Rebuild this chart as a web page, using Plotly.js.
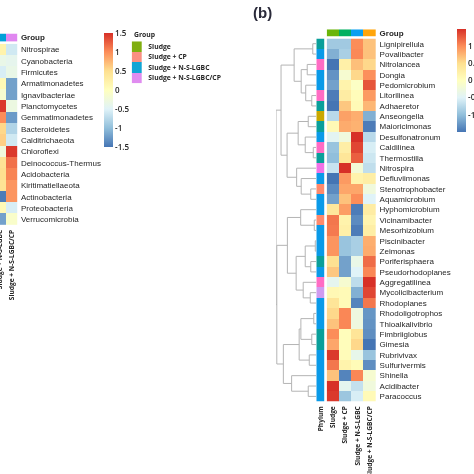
<!DOCTYPE html>
<html>
<head>
<meta charset="utf-8">
<script src="https://cdn.plot.ly/plotly-3.0.1.min.js"></script>
<style>html,body{margin:0;padding:0;background:#fff;overflow:hidden}#c{width:474px;height:474px;filter:blur(0.4px)}</style>
</head>
<body>
<div id="c"></div>
<script>
// ---------- data ----------
const groupNames = ['Sludge', 'Sludge + CP', 'Sludge + N-S-LGBC', 'Sludge + N-S-LGBC/CP'];

const leftTaxa = ['Nitrospirae','Cyanobacteria','Firmicutes','Armatimonadetes','Ignavibacteriae','Planctomycetes',
  'Gemmatimonadetes','Bacteroidetes','Calditrichaeota','Chloroflexi','Deinococcus-Thermus','Acidobacteria',
  'Kiritimatiellaeota','Actinobacteria','Proteobacteria','Verrucomicrobia'];
const leftColNSLGBC = [0.2,-0.35,-0.55,0.1,-0.15,1.45,1.0,0.55,0.6,-0.25,0.45,0.5,0.45,-1.45,0.1,-1.2];
const leftColNSLGBCCP = [-0.6,-0.4,-0.35,-1.2,-1.2,-0.3,-1.25,-0.8,-0.6,1.45,1.15,1.05,0.95,0.95,-0.55,-0.1];

const rightTaxa = ['Lignipirellula','Povalibacter','Nitrolancea','Dongia','Pedomicrobium','Litorilinea','Adhaeretor',
  'Anseongella','Maioricimonas','Desulfonatronum','Caldilinea','Thermostilla','Nitrospira','Defluviimonas',
  'Stenotrophobacter','Aquamicrobium','Hyphomicrobium','Vicinamibacter','Mesorhizobium','Piscinibacter','Zeimonas',
  'Poriferisphaera','Pseudorhodoplanes','Aggregatilinea','Mycolicibacterium','Rhodoplanes','Rhodoligotrophos',
  'Thioalkalivibrio','Fimbriiglobus','Gimesia','Rubrivivax','Sulfurivermis','Shinella','Acidibacter','Paracoccus'];
const rightSludge = [-0.9,-1.1,-1.5,-1.3,-1.2,-1.45,-1.5,-0.75,0.1,-0.45,-0.95,-1.0,-0.65,-1.5,-1.35,-1.2,0.38,1.12,1.1,0.95,0.95,0.48,0.65,-0.42,0.12,0.42,0.55,0.68,1.0,0.85,1.45,1.12,0.68,1.5,1.45];
const rightCP = [-0.9,-0.85,0.25,-0.15,0.2,0.3,0.65,0.88,0.82,-0.25,0.27,0.4,1.5,0.92,0.85,0.68,0.9,0.2,0.25,-0.95,-0.95,-1.2,-1.2,-0.15,0.08,0.08,1.03,1.03,0.04,0.04,0.06,0.2,-1.4,-0.42,-0.93];
const rightNS = [1.0,1.02,0.7,0.55,-0.05,0.05,0.08,0.8,0.78,1.5,1.38,1.25,-0.2,0.2,0.85,1.0,-1.45,-1.35,-1.45,-0.85,-0.85,-0.35,-0.5,-0.72,-1.1,-1.4,-0.28,-0.28,0.42,0.55,-0.38,0.07,1.03,-0.68,-0.55];
const rightNSCP = [0.68,0.68,0.55,0.98,1.3,0.92,0.75,-1.1,-1.45,-0.75,-0.55,-0.62,-0.7,0.28,-0.25,-0.5,0.3,0.18,0.28,0.8,0.82,1.18,1.03,1.5,1.38,1.12,-1.28,-1.3,-1.33,-1.5,-0.95,-1.33,-0.15,-0.25,0.08];

const phylumColors = ['#0a9f9a','#0a9ae8','#ff6cc4','#c9a800','#f272e6','#ff8a6c','#d09bf0'];
const rightPhylum = [0,1,2,1,1,2,0,3,0,1,2,0,4,1,5,1,1,5,1,1,1,0,1,2,6,1,1,1,0,0,1,1,1,1,1];

const rightGroupColors = ['#6ab50a','#00b060','#0a9ff0','#ffa50a'];
const leftGroupColors = ['#00a0d8','#e087f0'];
const legendColors = ['#80ae10','#fa8f82','#10a5d5','#e08cf0'];

const heatColors = ['#4575B4','#91BFDB','#E0F3F8','#FFFFBF','#FEE090','#FC8D59','#D73027'];
const barTicksLeft = [1.5,1,0.5,0,-0.5,-1,-1.5];
const barTextLeft = ['1.5','1','0.5','0','-0.5','-1','-1.5'];
const barTicksRight = [1,0.5,0,-0.5,-1];
const barTextRight = ['1','0.5','0','-0.5','-1'];

// row clustering: [height, upper, lower]
const rowTree = [40,
  [35,
    [22,
      [3.5,'Lignipirellula','Povalibacter'],
      [15,
        [9,'Nitrolancea','Dongia'],
        [10.5,'Pedomicrobium',[4.5,'Litorilinea','Adhaeretor']]]],
    [29,
      [18,
        [8,'Anseongella','Maioricimonas'],
        [11,'Desulfonatronum',[3,'Caldilinea','Thermostilla']]],
      [19.5,'Nitrospira',[15,'Defluviimonas',[5.5,'Stenotrophobacter','Aquamicrobium']]]]],
  [39.2,
    [28.7,
      [15.5,'Hyphomicrobium',[2,'Vicinamibacter','Mesorhizobium']],
      [20,
        [11,[1,'Piscinibacter','Zeimonas'],[5.5,'Poriferisphaera','Pseudorhodoplanes']],
        [13,'Aggregatilinea',[6,'Mycolicibacterium','Rhodoplanes']]]],
    [32.7,
      [17,
        [15.3,[2.5,'Rhodoligotrophos','Thioalkalivibrio'],[4.5,'Fimbriiglobus','Gimesia']],
        [7,'Rubrivivax','Sulfurivermis']],
      [24.5,'Shinella',[8,'Acidibacter','Paracoccus']]]]];

// ---------- layout helpers (pixels of the 474 page) ----------
const W = 474;
const xd = (a,b) => [a/W, b/W];
const yd = (a,b) => [1-b/W, 1-a/W];
const family = '"Liberation Sans", sans-serif';
const boldFamily = '"Open Sans", sans-serif';
const textCol = '#262626';
const heatScale = heatColors.map((c,i)=>[i/(heatColors.length-1),c]);
function stepScale(cols){
  const s=[]; cols.forEach((c,i)=>{s.push([i/cols.length,c]);s.push([(i+1)/cols.length,c]);}); return s;
}
const hidden = {showgrid:false,zeroline:false,showline:false,showticklabels:false,ticks:''};
const idx = a => a.map((_,i)=>i);

function colorbar(x,top,len,vals,text){
  return {x:x/W,xanchor:'left',y:1-top/W,yanchor:'top',thickness:8.5,thicknessmode:'pixels',len:len,lenmode:'pixels',
    xpad:0,ypad:0,outlinewidth:0,ticks:'',tickmode:'array',tickvals:vals,ticktext:text,
    tickfont:{family:boldFamily,size:8,color:textCol,weight:600}};
}

const traces = [];
const layout = {width:W,height:W,margin:{l:0,r:0,t:0,b:0,pad:0,autoexpand:false},paper_bgcolor:'#fff',plot_bgcolor:'#fff',showlegend:false,annotations:[]};

// --- left panel heat map
traces.push({type:'heatmap',xaxis:'x',yaxis:'y',x:groupNames.slice(2),y:leftTaxa,
  z:leftTaxa.map((_,i)=>[leftColNSLGBC[i],leftColNSLGBCCP[i]]),
  zmin:-1.5,zmax:1.5,colorscale:heatScale,colorbar:colorbar(104,33,113.5,barTicksLeft,barTextLeft)});
layout.xaxis = {domain:xd(0,17.3),anchor:'y',type:'category',range:[1.5-17.3/11.33,1.5],showgrid:false,zeroline:false,
  tickmode:'array',tickvals:groupNames.slice(2),ticktext:groupNames.slice(2),tickangle:-90,ticks:'outside',ticklen:1,tickcolor:'rgba(0,0,0,0)',
  tickfont:{family:boldFamily,size:6.6,color:textCol,weight:700}};
layout.yaxis = {domain:yd(43.8,225.2),anchor:'x',side:'right',type:'category',range:[15.5,-0.5],showgrid:false,zeroline:false,
  tickmode:'array',tickvals:leftTaxa,ticktext:leftTaxa,ticks:'outside',ticklen:1,tickcolor:'rgba(0,0,0,0)',
  tickfont:{family:family,size:8,color:textCol}};

// --- left panel group strip
traces.push({type:'heatmap',xaxis:'x2',yaxis:'y2',x:[0,1],y:['Group'],z:[[0,1]],zmin:0,zmax:1,showscale:false,
  colorscale:stepScale(leftGroupColors)});
layout.xaxis2 = Object.assign({domain:xd(0,17.3),anchor:'y2',range:[1.5-17.3/11.33,1.5]},hidden);
layout.yaxis2 = {domain:yd(33.5,41.7),anchor:'x2',side:'right',type:'category',showgrid:false,zeroline:false,
  ticks:'outside',ticklen:1,tickcolor:'rgba(0,0,0,0)',tickfont:{family:family,size:8,color:textCol,weight:700}};

// --- legend: a one-column strip whose axis labels name the groups
traces.push({type:'heatmap',xaxis:'x3',yaxis:'y3',x:[0],y:groupNames,z:idx(groupNames).map(i=>[i]),zmin:0,zmax:3,showscale:false,
  colorscale:stepScale(legendColors)});
layout.xaxis3 = Object.assign({domain:xd(131.7,142),anchor:'y3'},hidden);
layout.yaxis3 = {domain:yd(41.3,83.3),anchor:'x3',side:'right',type:'category',range:[3.5,-0.5],showgrid:false,zeroline:false,
  tickmode:'array',tickvals:groupNames,ticktext:groupNames,ticks:'outside',ticklen:4,tickcolor:'rgba(0,0,0,0)',
  tickfont:{family:boldFamily,size:6.8,color:textCol,weight:700}};
layout.annotations.push({xref:'paper',yref:'paper',x:132/W,y:1-34/W,xanchor:'left',yanchor:'middle',showarrow:false,text:'<b>Group</b>',
  font:{family:boldFamily,size:6.8,color:textCol}});

// --- right panel phylum strip
traces.push({type:'heatmap',xaxis:'x4',yaxis:'y4',x:['Phylum'],y:rightTaxa,z:rightPhylum.map(v=>[v]),zmin:0,zmax:phylumColors.length-1,showscale:false,
  colorscale:stepScale(phylumColors)});
const bottomTicks = {ticks:'outside',ticklen:1,tickcolor:'rgba(0,0,0,0)',tickangle:-90,tickfont:{family:boldFamily,size:6.6,color:textCol,weight:700}};
layout.xaxis4 = Object.assign({domain:xd(316.3,324.7),anchor:'y4',type:'category',showgrid:false,zeroline:false},bottomTicks);
layout.yaxis4 = Object.assign({domain:yd(38.5,401.6),anchor:'x4',type:'category',range:[34.5,-0.5]},hidden);

// --- right panel group strip
traces.push({type:'heatmap',xaxis:'x5',yaxis:'y5',x:idx(groupNames),y:['Group'],z:[idx(groupNames)],zmin:0,zmax:3,showscale:false,
  colorscale:stepScale(rightGroupColors)});
layout.xaxis5 = Object.assign({domain:xd(326.7,376),anchor:'y5',range:[-0.5,3.5]},hidden);
layout.yaxis5 = {domain:yd(29.3,36.7),anchor:'x5',side:'right',type:'category',showgrid:false,zeroline:false,
  ticks:'outside',ticklen:1,tickcolor:'rgba(0,0,0,0)',tickfont:{family:family,size:8,color:textCol,weight:700}};

// --- right panel heat map
traces.push({type:'heatmap',xaxis:'x6',yaxis:'y6',x:groupNames,y:rightTaxa,
  z:rightTaxa.map((_,i)=>[rightSludge[i],rightCP[i],rightNS[i],rightNSCP[i]]),
  zmin:-1.5,zmax:1.5,colorscale:heatScale,colorbar:colorbar(456.7,29,103,barTicksRight,barTextRight)});
layout.xaxis6 = Object.assign({domain:xd(326.7,376),anchor:'y6',type:'category',showgrid:false,zeroline:false,
  tickmode:'array',tickvals:groupNames,ticktext:groupNames},bottomTicks);
layout.yaxis6 = {domain:yd(38.5,401.6),anchor:'x6',side:'right',type:'category',range:[34.5,-0.5],showgrid:false,zeroline:false,
  tickmode:'array',tickvals:rightTaxa,ticktext:rightTaxa,ticks:'outside',ticklen:1,tickcolor:'rgba(0,0,0,0)',
  tickfont:{family:family,size:8,color:textCol}};

// --- right panel dendrogram, walked from the tree
const dx=[],dy=[];
function walk(n){
  if(typeof n==='string') return {h:0,y:rightTaxa.indexOf(n)};
  const a=walk(n[1]), b=walk(n[2]), y=(a.y+b.y)/2;
  dx.push(a.h,n[0],n[0],b.h,null); dy.push(a.y,a.y,b.y,b.y,null);
  return {h:n[0],y:y};
}
walk(rowTree);
traces.push({type:'scatter',mode:'lines',xaxis:'x7',yaxis:'y7',x:dx,y:dy,line:{color:'#b4b4b4',width:1},hoverinfo:'skip'});
layout.xaxis7 = Object.assign({domain:xd(276,316.3),anchor:'y7',range:[40,0]},hidden);
layout.yaxis7 = Object.assign({domain:yd(38.5,401.6),anchor:'x7',range:[34.5,-0.5]},hidden);

// --- panel letter
layout.annotations.push({xref:'paper',yref:'paper',x:262.5/W,y:1-12.5/W,xanchor:'center',yanchor:'middle',showarrow:false,text:'<b>(b)</b>',
  font:{family:'"Liberation Sans", sans-serif',size:15,color:'#2a2a3a'}});

Plotly.newPlot('c',traces,layout,{displayModeBar:false,staticPlot:true});
</script>
</body>
</html>
